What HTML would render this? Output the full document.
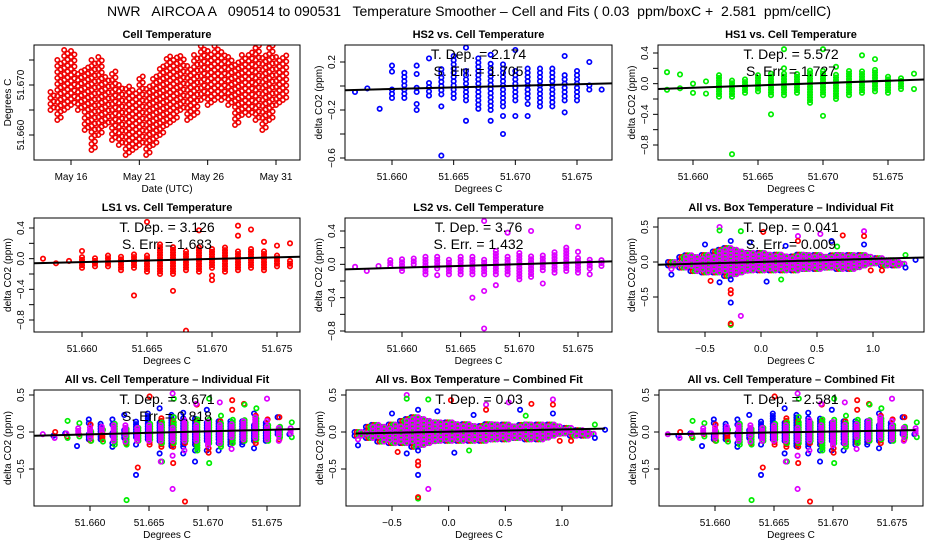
<!DOCTYPE html>
<html><head><meta charset="utf-8"><style>
html,body{margin:0;padding:0;background:#fff}
svg{display:block;font-family:"Liberation Sans",Arial,sans-serif}
</style></head><body>
<svg id="root" width="936" height="540" viewBox="0 0 936 540">
<rect width="936" height="540" fill="#fff"/>
<text x="469" y="16" font-size="14" text-anchor="middle" style="white-space:pre" xml:space="preserve" textLength="724" lengthAdjust="spacingAndGlyphs">NWR   AIRCOA A   090514 to 090531   Temperature Smoother – Cell and Fits ( 0.03  ppm/boxC +  2.581  ppm/cellC)</text>
</svg>
<script>
// ---- Data: cell temperature time series (mK above 51.660), half-day bins
const cellDays = [14.5,15,15.5,16,16.5,17,17.5,18,18.5,19,19.5,20,20.5,21,21.5,22,22.5,23,23.5,24,24.5,25,25.5,26,26.5,27,27.5,28,28.5,29,29.5,30,30.5,31,31.5];
const cellLo = [5,3,5,6,5,1,-3,0,2,-1,-2,-4,-3,-2,-4,-2,0,2,3,5,3,4,7,6,7,7,6,2,4,4,3,1,3,6,7];
const cellHi = [9,15,17,17,13,14,15,16,12,13,10,10,9,12,10,12,14,16,16,16,14,16,18,17,18,17,16,15,16,17,18,16,18,16,16];
// ---- LS1 (red) vs cell temp (mK offset from 51.600)
const ls1Temp = [57,58,59,60,61,62,63,64,65,66,67,68,69,70,71,72,73,74,75,76];
const ls1Lo = [0,-0.06,-0.03,-0.12,-0.1,-0.1,-0.15,-0.12,-0.17,-0.2,-0.2,-0.15,-0.17,-0.12,-0.17,-0.15,-0.12,-0.15,-0.1,-0.1];
const ls1Hi = [0,-0.06,-0.03,0.02,0.02,0.05,0.05,0.07,0.07,0.2,0.15,0.1,0.17,0.13,0.15,0.1,0.13,0.1,0.07,0];
const ls1Out = [[60,0.1],[64,-0.48],[65,0.48],[67,-0.42],[68,-0.94],[69,0.37],[70,-0.22],[70,-0.28],[72,0.43],[72,0.3],[73,0.38],[74,0.22],[75,0.17],[76,0.2]];
// ---- HS2 (blue)
const hs2Temp = [57,58,59,60,61,62,63,64,65,66,67,68,69,70,71,72,73,74,75,76,77];
const hs2Lo = [-0.05,-0.02,-0.19,-0.1,-0.1,-0.05,-0.08,-0.07,-0.1,-0.12,-0.19,-0.2,-0.17,-0.12,-0.1,-0.17,-0.17,-0.12,-0.12,-0.03,-0.03];
const hs2Hi = [-0.05,-0.02,-0.19,0,0.11,0,0.03,0.17,0.25,0.15,0.23,0.19,0.2,0.15,0.15,0.17,0.17,0.12,0.15,0.03,-0.02];
const hs2Out = [[60,0.17],[60,0.12],[62,0.1],[62,0.17],[62,-0.15],[62,-0.2],[63,0.23],[64,-0.17],[64,-0.58],[66,0.32],[66,-0.29],[68,0.26],[68,-0.29],[69,-0.25],[69,-0.4],[70,0.3],[70,-0.25],[71,-0.15],[71,-0.25],[74,0.25],[74,-0.22],[76,0.2]];
// ---- HS1 (green)
const hs1Temp = [58,59,60,61,62,63,64,65,66,67,68,69,70,71,72,73,74,75,76,77];
const hs1Lo = [-0.08,-0.06,-0.12,-0.13,-0.17,-0.17,-0.12,-0.1,-0.15,-0.15,-0.12,-0.25,-0.15,-0.2,-0.15,-0.12,-0.1,-0.12,-0.07,-0.07];
const hs1Hi = [-0.08,-0.06,-0.12,-0.13,0.13,0.05,0.07,0.12,0.15,0.15,0.15,0.2,0.17,0.13,0.17,0.17,0.2,0.12,0.1,-0.07];
const hs1Out = [[58,0.15],[59,0.12],[60,0],[61,0.03],[63,-0.92],[66,-0.4],[67,0.45],[67,0.2],[70,0.45],[70,-0.42],[71,0.22],[73,0.37],[74,0.32],[77,0.13]];
// ---- LS2 (magenta)
const ls2Temp = [56,57,58,59,60,61,62,63,64,65,66,67,68,69,70,71,72,73,74,75,76,77];
const ls2Lo = [-0.03,-0.08,-0.02,-0.02,-0.08,0,-0.12,-0.05,-0.12,-0.12,-0.12,-0.12,-0.12,-0.12,-0.18,-0.15,-0.07,-0.1,-0.08,-0.1,-0.05,-0.02];
const ls2Hi = [-0.03,-0.08,-0.02,0.07,0.07,0.1,0.1,0.1,0.07,0.1,0.1,0.08,0.17,0.12,0.15,0.1,0.13,0.17,0.2,0.08,0.07,0.08];
const ls2Out = [[63,-0.13],[66,-0.4],[67,0.52],[67,-0.32],[67,-0.77],[68,-0.25],[69,0.38],[71,0.4],[72,-0.23],[75,0.45],[75,0.15],[76,-0.12]];
// ---- Box temperature (all series) blob and outliers
const boxX = [-0.8,-0.7,-0.6,-0.5,-0.4,-0.3,-0.2,-0.1,0,0.1,0.2,0.3,0.4,0.5,0.6,0.7,0.8,0.9,1.0,1.1,1.2];
const boxLo = [-0.05,-0.08,-0.13,-0.15,-0.15,-0.2,-0.15,-0.12,-0.12,-0.12,-0.12,-0.12,-0.1,-0.1,-0.08,-0.1,-0.1,-0.05,-0.02,-0.05,-0.05];
const boxHi = [0.02,0.1,0.07,0.12,0.18,0.2,0.15,0.15,0.15,0.12,0.1,0.12,0.12,0.1,0.1,0.1,0.1,0.12,0.07,0.03,0.02];
const boxOut = [[-0.8,-0.18,1],[-0.8,-0.1,3],[-0.37,0.5,3],[-0.37,0.45,2],[-0.27,0.3,1],[-0.27,-0.25,1],[-0.27,-0.4,0],[-0.27,-0.45,0],[-0.27,-0.58,1],[-0.27,-0.9,2],[-0.27,-0.88,0],[-0.18,-0.77,3],[-0.18,0.44,2],[0.02,0.43,0],[0.33,0.37,3],[0.33,0.3,0],[0.53,0.4,3],[0.63,0.3,1],[0.73,0.38,0],[0.92,0.44,3],[0.92,0.37,0],[0.92,0.25,1],[-0.1,0.28,1],[-0.5,0.25,1],[-0.45,-0.27,0],[0.05,-0.28,1],[0.18,-0.25,2],[0.22,0.23,1],[-0.37,-0.29,1],[1.08,-0.12,0],[0.98,-0.12,0],[1.29,0.1,2],[1.29,-0.08,1],[1.38,0.03,1],[0.68,0.22,2]];
// ---- Stats
const tDep = ["2.174","5.572","3.126","3.76","0.041","3.671","0.03","2.581"];
const sErr = ["1.705","1.727","1.683","1.432","0.009","0.818",null,null];

const NS="http://www.w3.org/2000/svg";
const root=document.getElementById('root');
const COLORS=["#ff0000","#0000ff","#00ee00","#dd00ff"];
function mk(tag,attrs,parent){const e=document.createElementNS(NS,tag);for(const k in attrs)e.setAttribute(k,attrs[k]);(parent||root).appendChild(e);return e;}
function lin(v1,p1,v2,p2){return v=>p1+(v-v1)*(p2-p1)/(v2-v1);}

function panel(p){
  const g=mk('g',{});
  
  
  p.g=g;
  p.sx=lin(...p.xa); p.sy=lin(...p.ya);
  const cid='clip-'+p.name;
  const cp=mk('clipPath',{id:cid},g);
  mk('rect',{x:p.x0,y:p.y0,width:p.x1-p.x0,height:p.y1-p.y0},cp);
  p.plot=mk('g',{'clip-path':'url(#'+cid+')'},g);
  const t=mk('text',{x:(p.x0+p.x1)/2,y:p.y0-7,'font-size':11,'font-weight':'bold','text-anchor':'middle'},g);
  t.textContent=p.title;
  
  
  const box=mk('rect',{x:p.x0,y:p.y0,width:p.x1-p.x0,height:p.y1-p.y0,fill:'none',stroke:'#000','stroke-width':1},g);
  
  
  p.xt.forEach((v,i)=>{const x=p.sx(v);
    mk('line',{x1:x,x2:x,y1:p.y1,y2:p.y1+5,stroke:'#000'},g);
    const tl=mk('text',{x:x,y:p.y1+20,'font-size':10,'text-anchor':'middle'},g);
    tl.textContent=p.xl[i];
    
    });
  p.yt.forEach((v,i)=>{const y=p.sy(v);
    mk('line',{x1:p.x0-5,x2:p.x0,y1:y,y2:y,stroke:'#000'},g);
    if(p.yl[i]){const tl=mk('text',{x:0,y:0,'font-size':10,'text-anchor':'middle',transform:`translate(${p.x0-10},${y}) rotate(-90)`},g);
    tl.textContent=p.yl[i];
    
    }});
  const xl=mk('text',{x:(p.x0+p.x1)/2,y:p.y1+32,'font-size':10,'text-anchor':'middle'},g);
  xl.textContent=p.xlab;
  
  
  const yl=mk('text',{x:0,y:0,'font-size':10,'text-anchor':'middle',transform:`translate(${p.x0-23},${(p.y0+p.y1)/2}) rotate(-90)`},g);
  yl.textContent=p.ylab;
  
  
  return p;
}
function pt(p,x,y,ci){
  const c=mk('circle',{cx:p.sx(x),cy:p.sy(y),r:2.2,fill:'none',stroke:COLORS[ci],'stroke-width':1.7},p.plot);
  
  
}
function series(p,temps,lo,hi,out,ci,dx){
  temps.forEach((t,i)=>{for(let v=lo[i];v<=hi[i]+1e-9;v+=0.035)pt(p,t+(dx||0),v,ci);});
  out.forEach(o=>pt(p,o[0]+(dx||0),o[1],ci));
}
function fit(p,x1,y1,x2,y2){
  const l=mk('line',{x1:p.sx(x1),y1:p.sy(y1),x2:p.sx(x2),y2:p.sy(y2),stroke:'#000','stroke-width':2},p.plot);
  
  
}
function stats(p,i){
  const a=mk('text',{x:(p.x0+p.x1)/2,y:p.y0+14,'font-size':14,'text-anchor':'middle'},p.g);
  a.textContent='T. Dep. =  '+tDep[i];
  
  
  if(sErr[i]){const b=mk('text',{x:(p.x0+p.x1)/2,y:p.y0+31,'font-size':14,'text-anchor':'middle'},p.g);
  b.textContent='S. Err. =  '+sErr[i];
  
  }
}
const cellT=[60,65,70,75], cellL=['51.660','51.665','51.670','51.675'];
const boxT=[-0.5,0,0.5,1.0], boxL=['−0.5','0.0','0.5','1.0'];
const Y8=[0.4,0.2,0,-0.2,-0.4,-0.6,-0.8], Y8L=['0.4','','0.0','','−0.4','','−0.8'];
const Y5=[0.5,0,-0.5], Y5L=['0.5','0.0','−0.5'];
const DC='Degrees C', DCO='delta CO2 (ppm)';

// Panel 1: time series
const p1=panel({name:'cell-temperature-panel',title:'Cell Temperature',x0:34,x1:300,y0:45,y1:160,xa:[16,71,31,276],ya:[0,135,10,85],
  xt:[16,21,26,31],xl:['May 16','May 21','May 26','May 31'],yt:[0,5,10,15],yl:['51.660','','51.670',''],xlab:'Date (UTC)',ylab:'Degrees C'});
cellDays.forEach((d,i)=>{[0,0.25].forEach((o,k)=>{for(let v=cellLo[i]+k*0.5;v<=cellHi[i];v+=1.2){
  const c=mk('circle',{cx:p1.sx(d+o),cy:p1.sy(v),r:2.2,fill:'none',stroke:'#ee0000','stroke-width':1.6},p1.plot);
  
  }});});

const p2=panel({name:'hs2-panel',title:'HS2 vs. Cell Temperature',x0:345,x1:612,y0:45,y1:160,xa:[60,392,75,577],ya:[0.2,62,-0.6,158],
  xt:cellT,xl:cellL,yt:[0.2,0,-0.2,-0.4,-0.6],yl:['0.2','','−0.2','','−0.6'],xlab:DC,ylab:DCO});
series(p2,hs2Temp,hs2Lo,hs2Hi,hs2Out,1); fit(p2,56.2,-0.035,77.8,0.022); stats(p2,0);

const p3=panel({name:'hs1-panel',title:'HS1 vs. Cell Temperature',x0:658,x1:924,y0:45,y1:160,xa:[60,693,75,888],ya:[0.4,53,-0.8,145],
  xt:cellT,xl:cellL,yt:Y8,yl:Y8L,xlab:DC,ylab:DCO});
series(p3,hs1Temp,hs1Lo,hs1Hi,hs1Out,2); fit(p3,57.3,-0.07,77.8,0.055); stats(p3,1);

const p4=panel({name:'ls1-panel',title:'LS1 vs. Cell Temperature',x0:34,x1:300,y0:218,y1:332,xa:[60,82,75,277],ya:[0.4,228,-0.8,320],
  xt:cellT,xl:cellL,yt:Y8,yl:Y8L,xlab:DC,ylab:DCO});
series(p4,ls1Temp,ls1Lo,ls1Hi,ls1Out,0); fit(p4,56.3,-0.06,76.8,0.025); stats(p4,2);

const p5=panel({name:'ls2-panel',title:'LS2 vs. Cell Temperature',x0:345,x1:612,y0:218,y1:332,xa:[60,402,75,578],ya:[0.4,231,-0.8,331],
  xt:cellT,xl:cellL,yt:Y8,yl:Y8L,xlab:DC,ylab:DCO});
series(p5,ls2Temp,ls2Lo,ls2Hi,ls2Out,3); fit(p5,55.1,-0.06,77.9,0.035); stats(p5,3);

function boxPanel(p){
  [1,0,2,3].forEach((ci,k)=>{const dx=(k-1.5)*0.02;
    boxX.forEach((x,i)=>{for(let v=boxLo[i];v<=boxHi[i]+1e-9;v+=0.05)pt(p,x+dx,v,ci);
      for(let v=boxLo[i]+0.025;v<=boxHi[i];v+=0.05)pt(p,x+dx+0.05,v,ci);});});
  boxOut.forEach(o=>pt(p,o[0],o[1],o[2]));
}
const p6=panel({name:'all-box-individual-panel',title:'All vs. Box Temperature – Individual Fit',x0:658,x1:924,y0:218,y1:332,xa:[-0.5,705,1.0,873],ya:[0.5,227,-0.5,297],
  xt:boxT,xl:boxL,yt:Y5,yl:Y5L,xlab:DC,ylab:DCO});
boxPanel(p6); fit(p6,-0.92,-0.04,1.455,0.065); stats(p6,4);

function allCell(p){
  series(p,hs2Temp,hs2Lo,hs2Hi,hs2Out,1,-0.1);
  series(p,ls1Temp,ls1Lo,ls1Hi,ls1Out,0,0.05);
  series(p,hs1Temp,hs1Lo,hs1Hi,hs1Out,2,0.1);
  series(p,ls2Temp,ls2Lo,ls2Hi,ls2Out,3,0);
}
const p7=panel({name:'all-cell-individual-panel',title:'All vs. Cell Temperature – Individual Fit',x0:34,x1:300,y0:390,y1:506,xa:[60,90,75,267],ya:[0.5,395,-0.5,469],
  xt:cellT,xl:cellL,yt:Y5,yl:Y5L,xlab:DC,ylab:'delta CO2 (ppm)'});
allCell(p7); fit(p7,55.3,-0.05,77.8,0.04); stats(p7,5);

const p8=panel({name:'all-box-combined-panel',title:'All vs. Box Temperature – Combined Fit',x0:346,x1:612,y0:390,y1:506,xa:[-0.5,392,1.0,562],ya:[0.5,395,-0.5,469],
  xt:boxT,xl:boxL,yt:Y5,yl:Y5L,xlab:DC,ylab:DCO});
boxPanel(p8); fit(p8,-0.82,-0.02,1.38,0.045); stats(p8,6);

const p9=panel({name:'all-cell-combined-panel',title:'All vs. Cell Temperature – Combined Fit',x0:659,x1:923,y0:390,y1:506,xa:[60,715,75,892],ya:[0.5,395,-0.5,469],
  xt:cellT,xl:cellL,yt:Y5,yl:Y5L,xlab:DC,ylab:DCO});
allCell(p9); fit(p9,55.8,-0.03,77,0.025); stats(p9,7);
</script>
</body></html>
